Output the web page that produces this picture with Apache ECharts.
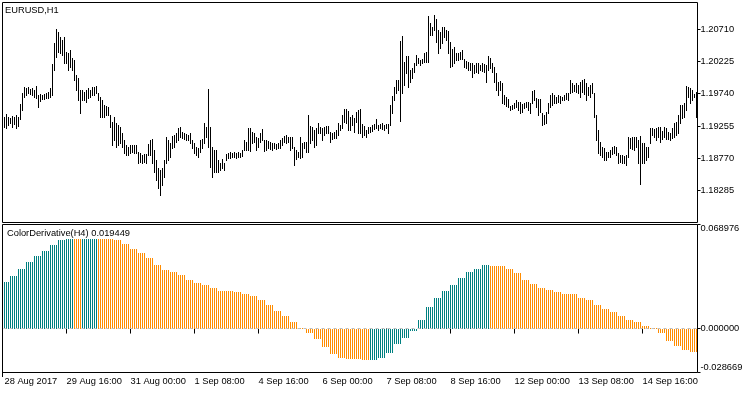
<!DOCTYPE html>
<html><head><meta charset="utf-8">
<script src="https://cdn.jsdelivr.net/npm/echarts@6/dist/echarts.min.js"></script>
<style>html,body{margin:0;padding:0;background:#fff}#c{width:750px;height:394px}</style>
</head><body><div id="c"></div>
<script>
// EURUSD H1 bar highs / lows (bar 0 = 28 Aug 2017 09:00)
const highs = [
1.19384,1.19434,1.19394,1.19369,1.19404,1.19384,1.19419,1.19394,1.19584,1.19754,
1.19844,1.19819,1.19834,1.19804,1.19819,1.19794,1.19854,1.19719,1.19734,1.19719,
1.19729,1.19744,1.19769,1.19819,1.20184,1.20494,1.20704,1.20669,1.20594,1.20544,
1.20594,1.20369,1.20344,1.20394,1.20269,1.20244,1.20019,1.19969,1.19794,1.19794,
1.19769,1.19794,1.19819,1.19794,1.19834,1.19844,1.19859,1.19744,1.19694,1.19644,
1.19569,1.19554,1.19544,1.19419,1.19319,1.19384,1.19304,1.19269,1.19244,1.19144,
1.19044,1.18969,1.18944,1.18969,1.18969,1.18969,1.18969,1.18869,1.18844,1.18819,
1.18834,1.18834,1.18984,1.19044,1.19054,1.18894,1.18744,1.18619,1.18594,1.18619,
1.18744,1.19094,1.19044,1.18994,1.19104,1.19119,1.19144,1.19219,1.19244,1.19169,
1.19144,1.19134,1.19119,1.19144,1.19044,1.18994,1.18944,1.18919,1.19044,1.19054,
1.19294,1.19244,1.19809,1.19244,1.18944,1.18894,1.18894,1.18744,1.18694,1.18754,
1.18694,1.18834,1.18844,1.18869,1.18854,1.18869,1.18844,1.18869,1.18854,1.18894,
1.19044,1.19019,1.19219,
1.19219,1.19169,1.19144,1.19094,1.19069,1.19154,1.19209,
1.19044,1.19044,1.19034,1.19019,1.18994,1.19004,1.18984,1.19004,1.19044,1.19069,
1.19104,1.19119,1.19094,1.19094,1.19094,1.18944,1.18894,1.18869,1.19094,1.18994,
1.19019,1.19019,1.19419,1.19254,1.19234,1.19194,1.19219,1.19294,1.19244,1.19219,
1.19244,1.19254,1.19254,1.19169,1.19154,1.19169,1.19194,1.19294,1.19269,1.19419,
1.19504,1.19514,1.19484,1.19394,1.19419,1.19369,1.19469,1.19494,1.19504,1.19284,
1.19254,1.19194,1.19244,1.19244,1.19269,1.19284,1.19354,1.19269,1.19284,1.19294,
1.19269,1.19284,1.19284,1.19569,1.19704,1.19834,1.19944,1.19944,1.20534,1.20604,
1.20219,1.20304,1.20304,1.20094,1.20119,1.20204,1.20319,1.20269,1.20244,1.20254,
1.20354,1.20369,1.20904,1.20804,1.20744,1.20919,1.20854,1.20694,1.20669,1.20744,
1.20734,1.20694,1.20684,1.20519,1.20404,1.20444,1.20344,1.20344,1.20369,1.20394,
1.20254,1.20234,1.20219,1.20194,1.20194,1.20169,1.20194,1.20204,1.20169,1.20194,
1.20184,1.20169,1.20304,1.20269,1.20194,1.20144,1.20054,1.19919,1.19934,1.19894,
1.19719,1.19694,1.19654,1.19554,1.19569,1.19594,1.19644,1.19619,1.19619,1.19584,
1.19604,1.19619,1.19619,1.19594,1.19784,1.19794,1.19669,1.19654,1.19654,1.19444,
1.19419,1.19469,1.19594,1.19719,1.19744,1.19719,1.19694,1.19719,1.19704,1.19694,
1.19719,1.19744,1.19744,1.19944,1.19894,1.19869,1.19894,1.19869,1.19919,1.19944,
1.19954,1.19894,1.19844,1.19869,1.19904,1.19744,1.19419,1.19194,1.19019,1.18944,
1.18919,1.18869,1.18869,1.18894,1.18944,1.18954,1.18944,1.18844,1.18819,1.18819,
1.18804,1.18819,1.19094,1.19069,1.19094,1.19094,1.19094,1.19044,1.19104,1.18994,
1.18994,1.18944,1.18944,1.19219,1.19219,1.19204,1.19219,1.19234,1.19244,1.19184,
1.19244,1.19219,1.19169,1.19144,1.19219,1.19294,1.19319,1.19419,1.19569,1.19569,
1.19594,1.19854,1.19844,1.19819,1.19794,1.19729,1.19769
];
const lows = [
1.19234,1.19219,1.19269,1.19294,1.19244,1.19284,1.19219,1.19254,1.19354,1.19494,
1.19694,1.19719,1.19744,1.19734,1.19719,1.19694,1.19669,1.19544,1.19634,1.19654,
1.19654,1.19669,1.19669,1.19694,1.19719,1.20094,1.20294,1.20369,1.20344,1.20319,
1.20194,1.20194,1.20094,1.20144,1.20094,1.19944,1.19794,1.19644,1.19454,1.19644,
1.19644,1.19619,1.19669,1.19694,1.19719,1.19719,1.19744,1.19644,1.19394,1.19394,
1.19394,1.19419,1.19419,1.19244,1.18969,1.19044,1.18944,1.18969,1.18994,1.18944,
1.18844,1.18819,1.18819,1.18844,1.18869,1.18844,1.18844,1.18694,1.18719,1.18694,
1.18719,1.18694,1.18819,1.18819,1.18694,1.18569,1.18444,1.18319,1.18219,1.18369,
1.18494,1.18694,1.18744,1.18794,1.18919,1.18944,1.19019,1.19044,1.19094,1.19069,
1.19054,1.19044,1.19044,1.18994,1.18919,1.18844,1.18819,1.18794,1.18869,1.18919,
1.18994,1.19094,1.18944,1.18644,1.18494,1.18569,1.18569,1.18569,1.18594,1.18619,
1.18594,1.18744,1.18769,1.18769,1.18784,1.18794,1.18769,1.18784,1.18784,1.18804,
1.18894,1.18894,1.18894,
1.18884,1.18994,1.19019,1.18894,1.18944,1.19019,1.19044,
1.18884,1.18894,1.18919,1.18904,1.18894,1.18919,1.18904,1.18919,1.18919,1.18969,
1.19019,1.18994,1.19019,1.18894,1.18919,1.18669,1.18754,1.18794,1.18769,1.18794,
1.18919,1.18869,1.18869,1.18994,1.19044,1.18944,1.18969,1.19144,1.19144,1.19044,
1.19119,1.19144,1.19154,1.19019,1.19054,1.19069,1.19069,1.19119,1.19194,1.19219,
1.19319,1.19294,1.19194,1.19194,1.19269,1.19169,1.19319,1.19144,1.19144,1.19094,
1.19119,1.19094,1.19144,1.19169,1.19184,1.19204,1.19219,1.19194,1.19219,1.19204,
1.19194,1.19219,1.19144,1.19269,1.19444,1.19644,1.19744,1.19794,1.19334,1.19744,
1.19869,1.20044,1.19844,1.19919,1.19969,1.20069,1.20169,1.20194,1.20169,1.20194,
1.20219,1.20219,1.20219,1.20619,1.20619,1.20694,1.20519,1.20354,1.20419,1.20494,
1.20594,1.20544,1.20344,1.20144,1.20154,1.20194,1.20244,1.20244,1.20254,1.20254,
1.20144,1.20119,1.20094,1.20094,1.19994,1.20044,1.20069,1.20044,1.20094,1.20084,
1.20069,1.19919,1.20094,1.20119,1.20069,1.19919,1.19794,1.19719,1.19794,1.19594,
1.19584,1.19554,1.19544,1.19494,1.19504,1.19519,1.19534,1.19494,1.19444,1.19469,
1.19519,1.19534,1.19494,1.19444,1.19594,1.19644,1.19544,1.19419,1.19469,1.19269,
1.19284,1.19294,1.19444,1.19544,1.19569,1.19594,1.19594,1.19619,1.19594,1.19644,
1.19644,1.19654,1.19644,1.19744,1.19769,1.19784,1.19769,1.19744,1.19694,1.19769,
1.19734,1.19644,1.19719,1.19694,1.19744,1.19394,1.19044,1.18844,1.18819,1.18794,
1.18744,1.18744,1.18784,1.18794,1.18834,1.18844,1.18819,1.18694,1.18719,1.18694,
1.18694,1.18669,1.18794,1.18919,1.18904,1.18894,1.18944,1.18694,1.18384,1.18694,
1.18694,1.18744,1.18794,1.18994,1.19119,1.19094,1.19044,1.19094,1.19019,1.19054,
1.19094,1.19054,1.19054,1.19044,1.19069,1.19094,1.19119,1.19144,1.19294,1.19369,
1.19394,1.19494,1.19694,1.19594,1.19644,1.19694,1.19394
];
// ColorDerivative(H4) values, one per H4 bar (first H4 bar = 28 Aug 08:00)
const h4Values = [
0.0309,0.0349,0.0395,0.0439,0.0479,0.0510,0.0552,0.0585,0.0592,0.0592,
0.0592,0.0592,0.0592,0.0592,0.0586,0.0559,0.0526,0.0500,0.0466,0.0420,
0.0387,0.0374,0.0354,0.0321,0.0301,0.0288,0.0268,0.0248,0.0248,0.0243,
0.0228,0.0215,0.0188,0.0155,0.0115,0.0082,0.0042,0.0002,-0.0032,-0.0066,
-0.0121,-0.0165,-0.0193,-0.0201,-0.0203,-0.0205,-0.0209,-0.0193,-0.0161,-0.0099,
-0.0060,-0.0015,0.0056,0.0142,0.0200,0.0248,0.0288,0.0336,0.0372,0.0394,
0.0420,0.0413,0.0413,0.0394,0.0367,0.0321,0.0294,0.0268,0.0254,0.0241,
0.0228,0.0228,0.0201,0.0188,0.0155,0.0129,0.0109,0.0082,0.0056,0.0042,
0.0016,0.0005,-0.0027,-0.0082,-0.0113,-0.0141,-0.0154
];
// colour buffer: 1 = teal (up), 0 = orange (down)
const h4Up = [
1,1,1,1,1,1,1,1,1,0,
1,1,0,0,0,0,0,0,0,0,
0,0,0,0,0,0,0,0,0,0,
0,0,0,0,0,0,0,0,0,0,
0,0,0,0,0,0,1,1,1,1,
1,1,1,1,1,1,1,1,1,1,
1,0,0,0,0,0,0,0,0,0,
0,0,0,0,0,0,0,0,0,0,
0,0,0,0,0,0,0
];
const h4Offset = 1; // first H1 bar is the 2nd hour of its H4 bar
const priceTicks = [1.18285, 1.18770, 1.19255, 1.19740, 1.20225, 1.20710];
const indTicks = [-0.028669, 0.000000, 0.068976];
const timeLabels = ["28 Aug 2017","29 Aug 16:00","31 Aug 00:00","1 Sep 08:00","4 Sep 16:00","6 Sep 00:00","7 Sep 08:00","8 Sep 16:00","12 Sep 00:00","13 Sep 08:00","14 Sep 16:00"];
const timeLabelBars = [0,31,63,95,127,159,191,223,255,287,319];

const priceMin = 1.17814, priceMax = 1.21114;
const indMin = -0.028669, indMax = 0.068976;

const TEAL = '#008080', ORANGE = '#ff8c00';
const FONT = 'Liberation Sans', FS = 9.3;

const cats = highs.map((_, i) => String(i));
const ohlc = highs.map((h, i) => [i, h, lows[i]]);
const hist = highs.map((_, i) => {
  const k = Math.floor((i + h4Offset) / 4);
  return [i, h4Values[k], h4Up[k]];
});

const chart = echarts.init(document.getElementById('c'), null, { renderer: 'canvas' });
chart.setOption({
  animation: false,
  backgroundColor: '#ffffff',
  title: [
    { text: 'EURUSD,H1', left: 5, top: 5.5, padding: 0,
      textStyle: { fontFamily: FONT, fontSize: FS, fontWeight: 'normal', color: '#000' } },
    { text: 'ColorDerivative(H4) 0.019449', left: 7, top: 228.5, padding: 0,
      textStyle: { fontFamily: FONT, fontSize: FS, fontWeight: 'normal', color: '#000' } }
  ],
  grid: [
    { left: 3.5, top: 2, width: 694, height: 220 },
    { left: 3.5, top: 224, width: 694, height: 148 }
  ],
  xAxis: [
    { type: 'category', gridIndex: 0, data: cats, boundaryGap: true,
      axisLine: { show: false }, axisTick: { show: false }, axisLabel: { show: false }, splitLine: { show: false } },
    { type: 'category', gridIndex: 1, data: cats, boundaryGap: true,
      axisLine: { show: false },
      axisTick: { show: true, alignWithLabel: true, length: 5,
        interval: (i) => timeLabelBars.indexOf(i) > 0, lineStyle: { color: '#000' } },
      axisLabel: { show: true, interval: (i) => timeLabelBars.indexOf(i) >= 0,
        formatter: (v, i) => timeLabels[timeLabelBars.indexOf(i)] || '',
        align: 'left', margin: 5, fontFamily: FONT, fontSize: FS, color: '#000' },
      splitLine: { show: false } }
  ],
  yAxis: [
    { type: 'value', gridIndex: 0, position: 'right', min: priceMin, max: priceMax,
      axisLine: { show: false },
      axisTick: { show: true, customValues: priceTicks, length: 3, lineStyle: { color: '#000' } },
      axisLabel: { customValues: priceTicks, formatter: (v) => v.toFixed(5), margin: 3,
        fontFamily: FONT, fontSize: FS, color: '#000' },
      splitLine: { show: false } },
    { type: 'value', gridIndex: 1, position: 'right', min: indMin, max: indMax,
      axisLine: { show: false },
      axisTick: { show: true, customValues: indTicks, length: 3, lineStyle: { color: '#000' } },
      axisLabel: { customValues: indTicks, formatter: (v) => v.toFixed(6), margin: 3,
        verticalAlignMinLabel: 'bottom', verticalAlignMaxLabel: 'top',
        fontFamily: FONT, fontSize: FS, color: '#000' },
      splitLine: { show: false } }
  ],
  series: [
    { type: 'custom', xAxisIndex: 0, yAxisIndex: 0, data: ohlc, clip: true,
      encode: { x: 0, y: [1, 2] },
      renderItem: (params, api) => {
        const hi = api.coord([api.value(0), api.value(1)]);
        const lo = api.coord([api.value(0), api.value(2)]);
        const x = Math.floor(hi[0]) + 0.5;
        return { type: 'line',
          shape: { x1: x, y1: Math.round(hi[1]), x2: x, y2: Math.round(lo[1]) + 1 },
          style: { stroke: '#000', lineWidth: 1 } };
      } },
    { type: 'custom', xAxisIndex: 1, yAxisIndex: 1, data: hist, clip: true,
      encode: { x: 0, y: 1 },
      renderItem: (params, api) => {
        const top = api.coord([api.value(0), api.value(1)]);
        const base = api.coord([api.value(0), 0]);
        const x = Math.floor(top[0]);
        const y1 = Math.round(Math.min(top[1], base[1]));
        const y2 = Math.round(Math.max(top[1], base[1]));
        return { type: 'rect',
          shape: { x: x, y: y1, width: 1, height: Math.max(y2 - y1, 0) },
          style: { fill: api.value(2) ? TEAL : ORANGE } };
      },
      markLine: { silent: true, symbol: 'none', label: { show: false },
        lineStyle: { color: '#c0c0c0', type: [3, 3], width: 1 },
        data: [{ yAxis: 0 }] } }
  ],
  graphic: [
    { type: 'rect', silent: true, z: 100, shape: { x: 2.5, y: 2.5, width: 695, height: 220 },
      style: { fill: null, stroke: '#000', lineWidth: 1 } },
    { type: 'rect', silent: true, z: 100, shape: { x: 2.5, y: 224.5, width: 695, height: 148 },
      style: { fill: null, stroke: '#000', lineWidth: 1 } },
    { type: 'line', silent: true, z: 100, shape: { x1: 2.5, y1: 372, x2: 2.5, y2: 377 },
      style: { stroke: '#000', lineWidth: 1 } }
  ]
});
</script>
</body></html>
